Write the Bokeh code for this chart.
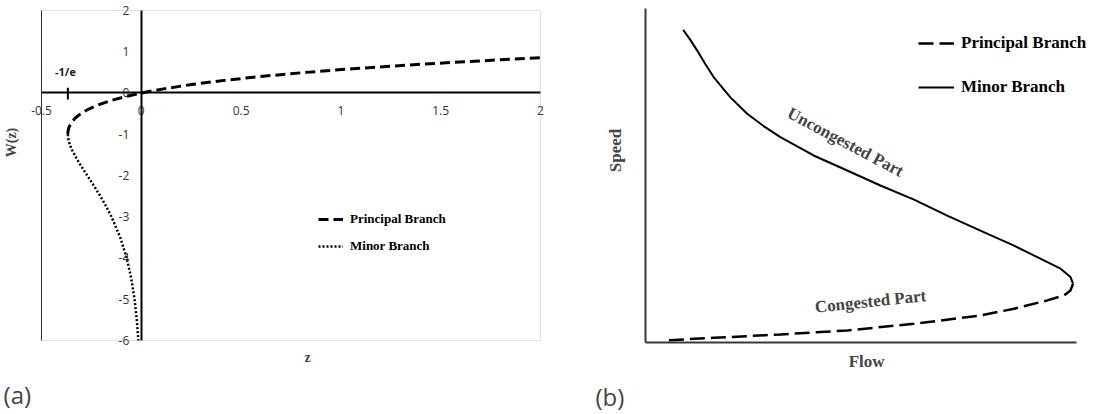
import math

from bokeh.core.properties import value
from bokeh.embed import file_html
from bokeh.layouts import row
from bokeh.models import BoxAnnotation, FixedTicker, Label, Legend, LegendItem
from bokeh.plotting import figure
from bokeh.resources import INLINE

# ---------------- (a) Lambert W function ----------------
principal_w = [-1.0, -0.95, -0.9, -0.85, -0.8, -0.7, -0.6, -0.5, -0.4, -0.3, -0.2, -0.1,
               0.0, 0.1, 0.2, 0.3, 0.4, 0.5, 0.6, 0.7, 0.8, 0.8526]
principal_z = [-0.3679, -0.3674, -0.3659, -0.3633, -0.3595, -0.3476, -0.3293, -0.3033,
               -0.2681, -0.2222, -0.1637, -0.0905, 0.0, 0.1105, 0.2443, 0.4050, 0.5967,
               0.8244, 1.0933, 1.4096, 1.7804, 2.0]

minor_w = [-1.0, -1.1, -1.2, -1.3, -1.4, -1.6, -1.8, -2.0, -2.25, -2.5, -2.75, -3.0,
           -3.5, -4.0, -4.5, -5.0, -5.5, -6.0]
minor_z = [-0.3679, -0.3662, -0.3614, -0.3543, -0.3452, -0.3230, -0.2975, -0.2707,
           -0.2372, -0.2052, -0.1758, -0.1494, -0.1057, -0.0733, -0.0500, -0.0337,
           -0.0225, -0.0149]

z_ticks = [-0.5, 0, 0.5, 1, 1.5, 2]
z_tick_labels = ["-0.5", "0", "0.5", "1", "1.5", "2"]
w_ticks = [-6, -5, -4, -3, -2, -1, 0, 1, 2]
w_tick_labels = ["-6", "-5", "-4", "-3", "-2", "-1", "0", "1", "2"]

branch_point = -0.3679  # -1/e

# ---------------- (b) speed-flow relation ----------------
minor_flow = [8.75, 10.4, 12.0, 13.9, 15.85, 19.7, 23.6, 27.4, 31.3, 39.0, 46.8, 54.5,
              62.3, 70.0, 77.7, 85.5, 91.6, 96.3, 98.6, 99.2]
minor_speed = [93.6, 90.6, 87.4, 83.3, 79.4, 73.4, 68.5, 64.8, 61.5, 56.0, 51.5, 47.0,
               42.8, 38.0, 33.5, 29.0, 25.1, 22.1, 19.6, 17.6]
principal_flow = [99.2, 98.6, 97.1, 93.2, 85.5, 77.7, 62.3, 46.8, 31.3, 15.85, 4.2]
principal_speed = [17.6, 15.6, 14.1, 12.6, 10.1, 8.1, 5.6, 3.6, 2.4, 1.4, 0.6]

SANS = "Open Sans"
SERIF = "Liberation Serif"

# ======== left panel ========
# the plotting frame fills the canvas; the boxed area spans z in [-0.5, 2], W in [-6, 2]
pa = figure(width=560, height=414, x_range=(-0.7054, 2.1002), y_range=(-7.794, 2.2424),
            output_backend="svg", toolbar_location=None,
            min_border_left=0, min_border_right=0, min_border_top=0,
            min_border_bottom=0)
pa.grid.visible = False
pa.outline_line_color = None
pa.background_fill_color = "white"
pa.border_fill_color = "white"

pa.add_layout(BoxAnnotation(left=z_ticks[0], right=z_ticks[-1], bottom=w_ticks[0],
                            top=w_ticks[-1], fill_alpha=0, line_color="#9a9a9a",
                            line_width=1))
pa.segment(x0=[z_ticks[0]], y0=[w_ticks[0]], x1=[z_ticks[0]], y1=[w_ticks[-1]],
           line_color="black", line_width=1)

for ax, ticks, labels in ((pa.xaxis, z_ticks, z_tick_labels), (pa.yaxis, w_ticks, w_tick_labels)):
    ax.fixed_location = 0
    ax.bounds = (ticks[0], ticks[-1])
    ax.ticker = FixedTicker(ticks=ticks)
    ax.major_label_overrides = dict(zip(ticks, labels))
    ax.axis_line_color = "black"
    ax.axis_line_width = 2
    ax.major_tick_in = 0
    ax.major_tick_out = 0
    ax.minor_tick_in = 0
    ax.minor_tick_out = 0
    ax.major_label_text_font = SANS
    ax.major_label_text_font_size = "12px"
    ax.major_label_text_color = "#333333"
pa.xaxis.major_label_standoff = 13
pa.yaxis.major_label_standoff = 12

r_pa_principal = pa.line(principal_z, principal_w, line_color="black", line_width=3,
                         line_dash="10 5")
r_pa_minor = pa.line(minor_z, minor_w, line_color="black", line_width=2.5,
                     line_dash="2 2")

# branch point marker at z = -1/e
pa.segment(x0=[branch_point], y0=[0.13], x1=[branch_point], y1=[-0.16],
           line_color="black", line_width=2)
pa.add_layout(Label(x=branch_point - 0.012, y=0.51, text="-1/e", text_align="center",
                    text_baseline="middle", text_font=SANS, text_font_size="11px",
                    text_font_style="bold", text_color="#222222"))

pa.add_layout(Label(x=-0.65, y=-1.2, text="W(z)", angle=math.pi / 2, text_align="center",
                    text_baseline="middle", text_font=SERIF,
                    text_font_size="14px", text_font_style="bold"))
pa.add_layout(Label(x=0.833, y=-6.41, text="z", text_align="center",
                    text_baseline="middle", text_font=SERIF,
                    text_font_size="14px", text_font_style="bold"))
pa.add_layout(Label(x=-0.69, y=-7.31, text="(a)", text_align="left",
                    text_baseline="middle", text_font=SANS, text_font_size="24px"))

leg_a = Legend(items=[LegendItem(label="Principal Branch", renderers=[r_pa_principal]),
                      LegendItem(label="Minor Branch", renderers=[r_pa_minor])],
               location=(318, 158), orientation="vertical",
               glyph_width=25, glyph_height=20, label_height=20, spacing=7,
               label_standoff=7, padding=0, margin=0,
               border_line_alpha=0, background_fill_alpha=0,
               label_text_font=SERIF, label_text_font_size="13px",
               label_text_font_style="bold", label_text_color="black")
pa.add_layout(leg_a)

# ======== right panel ========
# frame fills the canvas; flow and speed both run 0..100 inside the drawn axes
pb = figure(width=533, height=414, x_range=(-19.72, 103.94), y_range=(-21.56, 102.40),
            output_backend="svg", toolbar_location=None,
            min_border_left=0, min_border_right=0, min_border_top=0,
            min_border_bottom=0)
pb.grid.visible = False
pb.outline_line_color = None
pb.background_fill_color = "white"
pb.border_fill_color = "white"

for ax in (pb.xaxis, pb.yaxis):
    ax.fixed_location = 0
    ax.bounds = (0, 100)
    ax.ticker = FixedTicker(ticks=[])
    ax.axis_line_color = "#3a3a3a"
    ax.axis_line_width = 2
    ax.major_tick_in = 0
    ax.major_tick_out = 0
    ax.minor_tick_in = 0
    ax.minor_tick_out = 0

pb.add_layout(Label(x=51.3, y=-5.69, text="Flow", text_align="center",
                    text_baseline="middle", text_font=SERIF, text_font_size="17px",
                    text_font_style="bold"))
pb.add_layout(Label(x=-6.96, y=57.5, text="Speed", angle=math.pi / 2, text_align="center",
                    text_baseline="middle", text_font=SERIF, text_font_size="17px",
                    text_font_style="bold"))

r_pb_principal = pb.line(principal_flow, principal_speed, line_color="black",
                         line_width=2.5, line_dash="15 6")
r_pb_minor = pb.line(minor_flow, minor_speed, line_color="black", line_width=2)

pb.add_layout(Label(x=46.4, y=60.0, text="Uncongested Part", angle=-0.489,
                    text_align="center", text_baseline="middle",
                    text_font=SERIF, text_font_size="17px",
                    text_font_style="bold"))
pb.add_layout(Label(x=52.2, y=12.3, text="Congested Part", angle=0.104,
                    text_align="center", text_baseline="middle",
                    text_font=SERIF, text_font_size="17px",
                    text_font_style="bold"))
pb.add_layout(Label(x=-11.6, y=-16.2, text="(b)", text_align="left",
                    text_baseline="middle", text_font=SANS, text_font_size="24px"))

leg_b = Legend(items=[LegendItem(label="Principal Branch", renderers=[r_pb_principal]),
                      LegendItem(label="Minor Branch", renderers=[r_pb_minor])],
               location=(358, 316), orientation="vertical",
               glyph_width=36, glyph_height=22, label_height=22, spacing=22,
               label_standoff=7, padding=0, margin=0,
               border_line_alpha=0, background_fill_alpha=0,
               label_text_font=SERIF, label_text_font_size="17px",
               label_text_font_style="bold", label_text_color="black")
pb.add_layout(leg_b)

layout = row(pa, pb)
open("out.html", "w").write(file_html(layout, INLINE))
